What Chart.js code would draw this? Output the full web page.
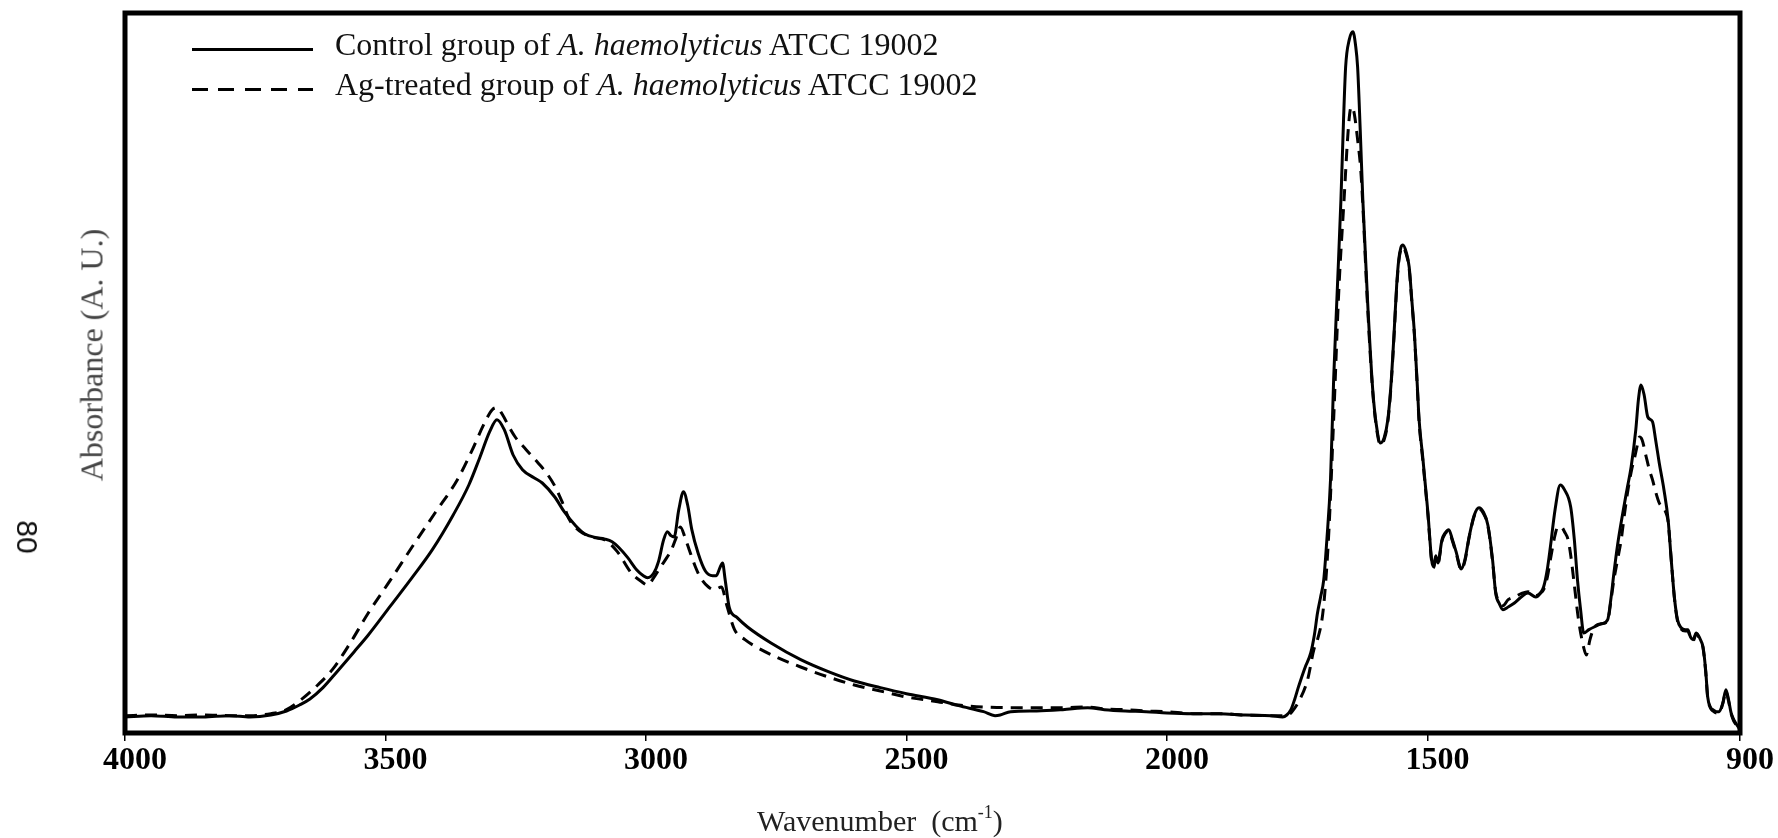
<!DOCTYPE html>
<html>
<head>
<meta charset="utf-8">
<title>FTIR spectra - A. haemolyticus ATCC 19002</title>
<script src="https://cdn.jsdelivr.net/npm/chart.js@4.4.1/dist/chart.umd.min.js"></script>
<style>
  body { margin: 0; background: #fff; }
  #wrap { position: relative; width: 1778px; height: 838px; }
  .serif { font-family: "Liberation Serif", "Times New Roman", serif; }
  .legend-row { position: absolute; left: 192px; height: 40px; line-height: 40px; font-size: 32px; color: #111; white-space: nowrap; }
  .legend-row .swatch { position: absolute; left: 0; top: 24px; width: 121px; height: 3px; }
  .legend-row .solid { background: #000; }
  .legend-row .dashed { background: repeating-linear-gradient(to right, #000 0 16px, transparent 16px 26.5px); }
  .legend-row .label { position: absolute; left: 143px; top: 0; }
  #xTitle { position: absolute; left: 757px; top: 806px; font-size: 30px; line-height: 30px; color: #222; white-space: pre; }
  #xTitle sup { font-size: 0.6em; vertical-align: 0.7em; line-height: 0; }
  #yTitle { position: absolute; left: 92px; top: 355px; font-size: 32px; color: #444; white-space: nowrap;
            transform: translate(-50%, -50%) rotate(-90deg); }
  #pageNo { position: absolute; left: 27px; top: 537px; font-family: "Liberation Sans", Arial, sans-serif; font-size: 30px;
            color: #111; white-space: nowrap; transform: translate(-50%, -50%) rotate(90deg); }
</style>
</head>
<body>
<div id="wrap">
  <canvas id="ftirChart"></canvas>
  <div class="legend-row serif" style="top:24px"><span class="swatch solid"></span><span class="label">Control group of <i>A. haemolyticus</i> ATCC 19002</span></div>
  <div class="legend-row serif" style="top:64px"><span class="swatch dashed"></span><span class="label">Ag-treated group of <i>A. haemolyticus</i> ATCC 19002</span></div>
  <div id="xTitle" class="serif">Wavenumber  (cm<sup>-1</sup>)</div>
  <div id="yTitle" class="serif">Absorbance (A. U.)</div>
  <div id="pageNo">80</div>
</div>
<script>
// x軸の目盛り (cm-1)
const xTickValues = [4000, 3500, 3000, 2500, 2000, 1500, 900];

// 対照群のスペクトル
const controlWavenumber = [
  4000, 3950, 3900, 3850, 3800, 3760, 3720, 3690, 3665, 3645, 3620, 3593, 3560, 3533, 3490, 3449, 3410, 3370, 3340, 3320,
  3300, 3286, 3272, 3255, 3237, 3215, 3199, 3175, 3157, 3135, 3118, 3095, 3080, 3065, 3053, 3035, 3018, 3005, 2997, 2985,
  2976, 2966, 2959, 2952, 2946, 2937, 2928, 2920, 2912, 2900, 2886, 2872, 2865, 2858, 2853, 2848, 2840, 2825, 2805, 2760,
  2703, 2650, 2600, 2550, 2500, 2440, 2400, 2352, 2330, 2320, 2300, 2250, 2200, 2152, 2120, 2080, 2040, 2000, 1950, 1900,
  1850, 1800, 1778, 1770, 1762, 1755, 1748, 1743, 1735, 1724, 1717, 1711, 1705, 1699, 1693, 1686, 1680, 1673, 1666, 1661,
  1657, 1650, 1643, 1638, 1634, 1629, 1624, 1615, 1605, 1598, 1590, 1583, 1576, 1570, 1564, 1559, 1555, 1551, 1547, 1541,
  1535, 1530, 1525, 1519, 1516, 1509, 1504, 1499, 1492, 1488, 1484, 1480, 1472, 1466, 1459, 1452, 1445, 1435, 1428, 1420,
  1410, 1401, 1393, 1384, 1375, 1369, 1362, 1355, 1345, 1333, 1320, 1307, 1292, 1283, 1277, 1270, 1264, 1255, 1245, 1237,
  1225, 1218, 1212, 1206, 1200, 1190, 1180, 1165, 1154, 1148, 1142, 1135, 1125, 1117, 1109, 1100, 1095, 1090, 1084, 1077,
  1068, 1062, 1055, 1046, 1038, 1032, 1026, 1020, 1013, 1005, 1000, 995, 990, 984, 976, 971, 966, 962, 957, 952,
  945, 940, 933, 927, 922, 917, 912, 906, 900
];
const controlAbsorbance = [
  0.024, 0.026, 0.024, 0.024, 0.026, 0.024, 0.027, 0.033, 0.042, 0.051, 0.068, 0.092, 0.122, 0.147, 0.191, 0.233, 0.275, 0.327, 0.372, 0.411,
  0.452, 0.470, 0.455, 0.417, 0.395, 0.383, 0.375, 0.354, 0.332, 0.311, 0.299, 0.293, 0.291, 0.287, 0.279, 0.263, 0.245, 0.236, 0.233, 0.240,
  0.257, 0.290, 0.302, 0.296, 0.294, 0.335, 0.362, 0.342, 0.305, 0.270, 0.243, 0.236, 0.236, 0.248, 0.255, 0.230, 0.188, 0.173, 0.159, 0.135,
  0.110, 0.092, 0.078, 0.068, 0.059, 0.050, 0.041, 0.032, 0.026, 0.027, 0.032, 0.033, 0.035, 0.038, 0.035, 0.033, 0.032, 0.030, 0.029, 0.029,
  0.027, 0.026, 0.024, 0.027, 0.035, 0.050, 0.068, 0.080, 0.098, 0.120, 0.147, 0.180, 0.204, 0.230, 0.290, 0.380, 0.530, 0.665, 0.800, 0.920,
  0.999, 1.040, 1.052, 1.032, 0.999, 0.905, 0.800, 0.650, 0.515, 0.462, 0.435, 0.443, 0.470, 0.522, 0.600, 0.672, 0.710, 0.728, 0.732, 0.722,
  0.699, 0.650, 0.600, 0.515, 0.470, 0.414, 0.372, 0.330, 0.260, 0.249, 0.266, 0.255, 0.290, 0.300, 0.305, 0.290, 0.272, 0.246, 0.260, 0.294,
  0.327, 0.338, 0.332, 0.312, 0.260, 0.210, 0.194, 0.185, 0.189, 0.195, 0.204, 0.210, 0.204, 0.210, 0.219, 0.245, 0.279, 0.335, 0.372, 0.365,
  0.339, 0.290, 0.230, 0.185, 0.150, 0.155, 0.159, 0.164, 0.170, 0.200, 0.240, 0.282, 0.330, 0.365, 0.399, 0.455, 0.500, 0.522, 0.507, 0.474,
  0.467, 0.440, 0.405, 0.365, 0.320, 0.260, 0.204, 0.170, 0.158, 0.155, 0.155, 0.144, 0.140, 0.150, 0.140, 0.129, 0.095, 0.054, 0.039, 0.035,
  0.032, 0.032, 0.045, 0.065, 0.050, 0.030, 0.020, 0.012, 0.005
];

// Ag処理群のスペクトル
const agWavenumber = [
  4000, 3950, 3900, 3850, 3800, 3760, 3720, 3690, 3662, 3630, 3602, 3570, 3533, 3490, 3449, 3405, 3362, 3335, 3310, 3295,
  3286, 3275, 3262, 3251, 3230, 3207, 3190, 3174, 3160, 3147, 3135, 3122, 3100, 3080, 3055, 3028, 3010, 2997, 2985, 2972,
  2960, 2951, 2942, 2934, 2925, 2917, 2905, 2896, 2880, 2869, 2855, 2845, 2830, 2810, 2788, 2750, 2703, 2650, 2600, 2550,
  2500, 2440, 2400, 2352, 2300, 2250, 2200, 2152, 2120, 2080, 2040, 2000, 1950, 1900, 1850, 1800, 1770, 1760, 1745, 1730,
  1718, 1711, 1700, 1690, 1680, 1670, 1660, 1652, 1647, 1644, 1640, 1634, 1628, 1624, 1615, 1605, 1598, 1590, 1583, 1576,
  1570, 1564, 1559, 1555, 1551, 1547, 1541, 1535, 1530, 1525, 1519, 1516, 1509, 1504, 1499, 1492, 1488, 1484, 1480, 1472,
  1466, 1459, 1452, 1445, 1435, 1428, 1420, 1410, 1401, 1393, 1384, 1375, 1369, 1362, 1355, 1345, 1333, 1320, 1307, 1292,
  1283, 1277, 1270, 1264, 1255, 1250, 1243, 1237, 1230, 1225, 1218, 1210, 1200, 1195, 1188, 1180, 1165, 1154, 1148, 1142,
  1135, 1128, 1122, 1115, 1108, 1102, 1097, 1093, 1088, 1080, 1074, 1068, 1062, 1055, 1048, 1043, 1038, 1032, 1026, 1020,
  1013, 1005, 1000, 995, 990, 984, 976, 971, 966, 962, 957, 952, 945, 940, 933, 927, 922, 917, 912, 906,
  900
];
const agAbsorbance = [
  0.026, 0.027, 0.026, 0.027, 0.026, 0.026, 0.029, 0.035, 0.050, 0.072, 0.095, 0.132, 0.180, 0.230, 0.279, 0.330, 0.380, 0.422, 0.465, 0.485,
  0.488, 0.477, 0.458, 0.444, 0.425, 0.405, 0.389, 0.369, 0.345, 0.320, 0.308, 0.300, 0.293, 0.290, 0.272, 0.240, 0.228, 0.222, 0.233, 0.249,
  0.263, 0.275, 0.293, 0.309, 0.293, 0.275, 0.249, 0.234, 0.219, 0.215, 0.219, 0.192, 0.155, 0.140, 0.129, 0.114, 0.099, 0.084, 0.072, 0.063,
  0.054, 0.047, 0.042, 0.039, 0.038, 0.038, 0.038, 0.039, 0.036, 0.035, 0.033, 0.032, 0.029, 0.029, 0.027, 0.026, 0.026, 0.032, 0.050, 0.080,
  0.125, 0.140, 0.185, 0.290, 0.470, 0.665, 0.800, 0.905, 0.938, 0.939, 0.927, 0.890, 0.845, 0.792, 0.642, 0.512, 0.459, 0.432, 0.440, 0.467,
  0.519, 0.596, 0.668, 0.707, 0.725, 0.729, 0.719, 0.696, 0.647, 0.597, 0.512, 0.467, 0.410, 0.369, 0.327, 0.258, 0.248, 0.264, 0.254, 0.288,
  0.299, 0.303, 0.288, 0.270, 0.245, 0.258, 0.293, 0.326, 0.336, 0.330, 0.311, 0.258, 0.212, 0.197, 0.191, 0.200, 0.204, 0.209, 0.212, 0.206,
  0.210, 0.215, 0.233, 0.260, 0.297, 0.309, 0.309, 0.302, 0.290, 0.267, 0.222, 0.170, 0.128, 0.117, 0.140, 0.158, 0.164, 0.168, 0.197, 0.230,
  0.260, 0.290, 0.327, 0.365, 0.395, 0.414, 0.432, 0.444, 0.440, 0.414, 0.395, 0.380, 0.362, 0.345, 0.338, 0.332, 0.317, 0.260, 0.203, 0.168,
  0.156, 0.153, 0.153, 0.143, 0.138, 0.149, 0.138, 0.128, 0.093, 0.053, 0.038, 0.033, 0.030, 0.030, 0.044, 0.062, 0.048, 0.029, 0.018, 0.011,
  0.003
];

// 配列を {x, y} の点に組み立てる
function toPoints(wn, abs) {
  return wn.map((x, i) => ({ x: x, y: abs[i] }));
}

// プロット領域の太い枠
const frameBox = {
  id: 'frameBox',
  afterDraw(chart) {
    const { ctx, chartArea: a } = chart;
    ctx.save();
    ctx.strokeStyle = '#000';
    ctx.lineWidth = 5;
    ctx.strokeRect(a.left, a.top, a.right - a.left, a.bottom - a.top);
    ctx.restore();
  }
};

const serif = '"Liberation Serif", "Times New Roman", serif';

new Chart(document.getElementById('ftirChart'), {
  type: 'line',
  data: {
    datasets: [
      {
        label: 'Control group of A. haemolyticus ATCC 19002',
        data: toPoints(controlWavenumber, controlAbsorbance),
        borderColor: '#000',
        borderWidth: 3,
        pointRadius: 0,
        fill: false,
        cubicInterpolationMode: 'monotone'
      },
      {
        label: 'Ag-treated group of A. haemolyticus ATCC 19002',
        data: toPoints(agWavenumber, agAbsorbance),
        borderColor: '#000',
        borderWidth: 3,
        borderDash: [12, 8],
        pointRadius: 0,
        fill: false,
        cubicInterpolationMode: 'monotone'
      }
    ]
  },
  options: {
    responsive: true,
    maintainAspectRatio: false,
    animation: false,
    layout: { padding: { left: 125, right: 38, top: 13, bottom: 56.6 } },
    plugins: {
      legend: { display: false },
      tooltip: { enabled: false }
    },
    scales: {
      x: {
        type: 'linear',
        reverse: true,
        min: 900,
        max: 4000,
        afterBuildTicks: function(scale) {
          scale.ticks = xTickValues.map(v => ({ value: v }));
        },
        ticks: {
          autoSkip: false,
          maxRotation: 0,
          padding: 1,
          labelOffset: 10,
          color: '#000',
          font: { family: serif, size: 32, weight: 'bold' },
          callback: v => String(v)
        },
        grid: { drawOnChartArea: false, color: '#000', lineWidth: 1.5, tickLength: 8 },
        border: { display: false }
      },
      y: {
        display: false,
        min: 0,
        max: 1.08
      }
    }
  },
  plugins: [frameBox]
});
</script>
</body>
</html>
